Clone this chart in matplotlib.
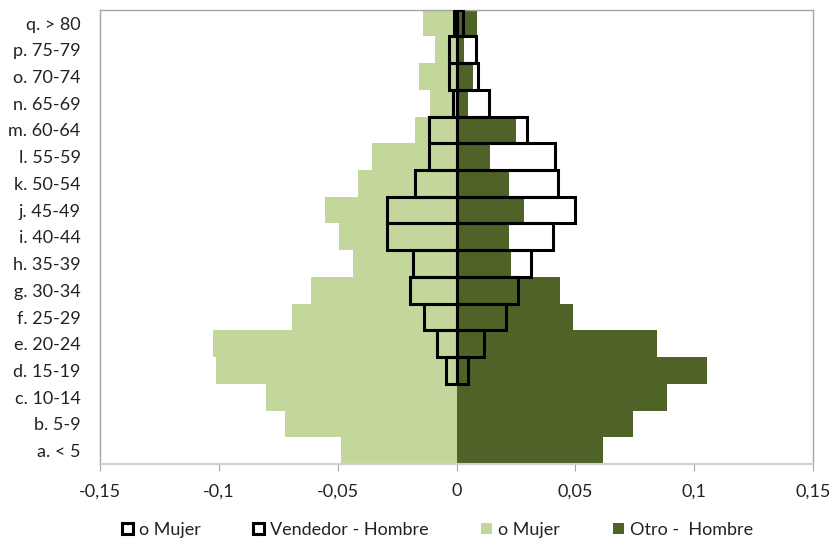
import numpy as np
import matplotlib
matplotlib.use("Agg")
import matplotlib.pyplot as plt
from matplotlib.ticker import FuncFormatter

plt.rcParams["font.family"] = ["Lato", "DejaVu Sans"]

categories = ["a. < 5", "b. 5-9", "c. 10-14", "d. 15-19", "e. 20-24", "f. 25-29",
              "g. 30-34", "h. 35-39", "i. 40-44", "j. 45-49", "k. 50-54", "l. 55-59",
              "m. 60-64", "n. 65-69", "o. 70-74", "p. 75-79", "q. > 80"]

otro_mujer = [-0.0488, -0.072, -0.080, -0.1013, -0.1026, -0.0694, -0.0614, -0.0437,
              -0.0496, -0.0555, -0.0416, -0.0358, -0.0177, -0.011, -0.016, -0.0093, -0.0143]
otro_hombre = [0.0614, 0.074, 0.0887, 0.1055, 0.0845, 0.049, 0.0433, 0.023,
               0.022, 0.0282, 0.022, 0.0139, 0.025, 0.005, 0.0071, 0.003, 0.0084]
vend_mujer = [0, 0, 0, -0.0046, -0.0084, -0.0139, -0.0198, -0.0185,
              -0.0294, -0.0294, -0.0177, -0.0118, -0.0118, -0.0017, -0.003, -0.003, -0.001]
vend_hombre = [0, 0, 0, 0.0046, 0.0114, 0.0206, 0.0257, 0.0311,
               0.0404, 0.050, 0.0426, 0.0412, 0.0295, 0.0135, 0.0088, 0.008, 0.0025]

legend_labels = ["o Mujer", "Vendedor - Hombre", "o Mujer", "Otro -  Hombre"]

light = "#C3D69B"
dark = "#4F6228"
grey = "#A6A6A6"
txt = "#222222"
fs = 13

fig = plt.figure(figsize=(8.34, 5.42), dpi=100)
ax = fig.add_axes([0.12, 0.144, 0.855, 0.838])

y = np.arange(len(categories))
vm = np.array(vend_mujer)
vh = np.array(vend_hombre)

ax.barh(y, otro_mujer, height=1.0, color=light, zorder=2)
ax.barh(y, otro_hombre, height=1.0, color=dark, zorder=2)
# the white "Vendedor" boxes are drawn as outlines over the green bars
mm = vm != 0
mh = vh != 0
h1 = ax.barh(y[mm], vm[mm], height=1.0, facecolor="none", edgecolor="black",
             linewidth=2.2, zorder=4)
h2 = ax.barh(y[mh], vh[mh], height=1.0, facecolor="none", edgecolor="black",
             linewidth=2.2, zorder=4)

ax.set_xlim(-0.15, 0.15)
ax.set_ylim(-0.5, len(categories) - 0.5)
ax.set_xticks([-0.15, -0.1, -0.05, 0, 0.05, 0.1, 0.15])
ax.xaxis.set_major_formatter(FuncFormatter(lambda v, p: f"{v:g}".replace(".", ",")))
ax.set_yticks(y)
ax.set_yticklabels(categories)
ax.tick_params(axis="y", length=0, pad=14, labelsize=fs, labelcolor=txt)
ax.tick_params(axis="x", length=5, color=grey, pad=9, labelsize=fs, labelcolor=txt)
for s in ax.spines.values():
    s.set_color(grey)
    s.set_linewidth(1.0)
ax.spines["bottom"].set_linewidth(1.5)
ax.spines["bottom"].set_color("#D0D0D0")

# vertical category axis sitting at x = 0
sec = ax.secondary_yaxis(0.5)
sec.set_yticks(np.arange(len(categories) + 1) - 0.5)
sec.set_yticklabels([])
sec.tick_params(length=5, color=grey)
sec.spines["left"].set_visible(False)

light_patch = plt.Rectangle((0, 0), 1, 1, facecolor=light)
dark_patch = plt.Rectangle((0, 0), 1, 1, facecolor=dark)
fig.legend([h1, h2, light_patch, dark_patch], legend_labels, ncol=4,
           loc="center left", bbox_to_anchor=(0.146, 0.022), frameon=False,
           borderaxespad=0, borderpad=0,
           fontsize=fs, handlelength=0.6, handleheight=0.6, handletextpad=0.35,
           columnspacing=2.9, labelcolor=txt)

fig.savefig("out.png", dpi=100)
